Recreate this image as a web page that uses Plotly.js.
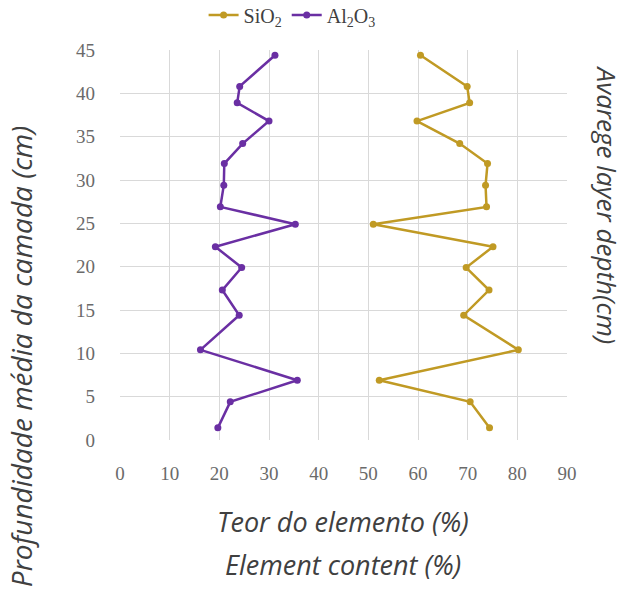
<!DOCTYPE html>
<html>
<head>
<meta charset="utf-8">
<script src="https://cdn.plot.ly/plotly-3.0.1.min.js"></script>
<style>html,body{margin:0;padding:0;background:#fff;}#chart{width:626px;height:592px;}</style>
</head>
<body>
<div id="chart"></div>
<script>
const depth = [1.4, 4.4, 6.9, 10.4, 14.4, 17.3, 19.9, 22.3, 24.9, 26.9, 29.4, 31.9, 34.2, 36.8, 38.9, 40.8, 44.4];
const sio2 = [74.4, 70.5, 52.2, 80.2, 69.2, 74.3, 69.7, 75.1, 51.0, 73.8, 73.6, 74.0, 68.4, 59.8, 70.4, 69.9, 60.5];
const al2o3 = [19.7, 22.2, 35.7, 16.2, 24.0, 20.6, 24.5, 19.2, 35.3, 20.2, 20.9, 21.0, 24.7, 30.0, 23.6, 24.1, 31.2];
const seriesNames = ['SiO<sub>2</sub>', 'Al<sub>2</sub>O<sub>3</sub>'];
const xTicks = [0, 10, 20, 30, 40, 50, 60, 70, 80, 90];
const yTicks = [0, 5, 10, 15, 20, 25, 30, 35, 40, 45];

const gold = '#c09a24';
const purple = '#6a2fa3';

const traces = [
  {x: sio2, y: depth, name: seriesNames[0], mode: 'lines+markers', type: 'scatter',
   line: {color: gold, width: 2.5}, marker: {color: gold, size: 7}},
  {x: al2o3, y: depth, name: seriesNames[1], mode: 'lines+markers', type: 'scatter',
   line: {color: purple, width: 2.5}, marker: {color: purple, size: 7}}
];

const tickFont = {family: 'Liberation Serif, serif', size: 19, color: '#6a6a6a'};
const vTitleFont = {family: 'Open Sans, sans-serif', size: 28, color: '#404040'};
const rTitleFont = {family: 'Open Sans, sans-serif', size: 26, color: '#404040'};
const hTitleFont = {family: 'Open Sans, sans-serif', size: 27, color: '#404040'};

const layout = {
  width: 626, height: 592,
  margin: {l: 120, r: 59, t: 50, b: 152, autoexpand: false},
  paper_bgcolor: '#fff', plot_bgcolor: '#fff',
  showlegend: true,
  legend: {orientation: 'h', x: 0.385, y: 1.09, xanchor: 'center', yanchor: 'middle',
           font: {family: 'Liberation Serif, serif', size: 20, color: '#404040'}},
  xaxis: {range: [0, 90], tickvals: xTicks, ticktext: xTicks.map(String), showgrid: true,
          gridcolor: '#d9d9d9', gridwidth: 1, zeroline: false, showline: false,
          tickfont: tickFont, ticks: '', ticklabelstandoff: 20, fixedrange: true},
  yaxis: {range: [0, 45], tickvals: yTicks, ticktext: yTicks.map(String), showgrid: true,
          gridcolor: '#d9d9d9', gridwidth: 1, zeroline: false, showline: false,
          tickfont: tickFont, ticks: '', ticklabelstandoff: 24, fixedrange: true},
  annotations: [
    {text: '<i>Profundidade média da camada (cm)</i>', xref: 'paper', yref: 'paper',
     x: -0.221, y: 0.213, textangle: -90, showarrow: false, font: vTitleFont,
     xanchor: 'center', yanchor: 'middle'},
    {text: '<i>Avarege layer depth(cm)</i>', xref: 'paper', yref: 'paper',
     x: 1.09, y: 0.603, textangle: 90, showarrow: false, font: rTitleFont,
     xanchor: 'center', yanchor: 'middle'},
    {text: '<i>Teor do elemento (%)</i>', xref: 'paper', yref: 'paper',
     x: 0.499, y: -0.21, showarrow: false, font: hTitleFont, xanchor: 'center', yanchor: 'middle'},
    {text: '<i>Element content (%)</i>', xref: 'paper', yref: 'paper',
     x: 0.499, y: -0.32, showarrow: false, font: hTitleFont, xanchor: 'center', yanchor: 'middle'}
  ]
};

Plotly.newPlot('chart', traces, layout, {displayModeBar: false, staticPlot: true});
</script>
</body>
</html>
